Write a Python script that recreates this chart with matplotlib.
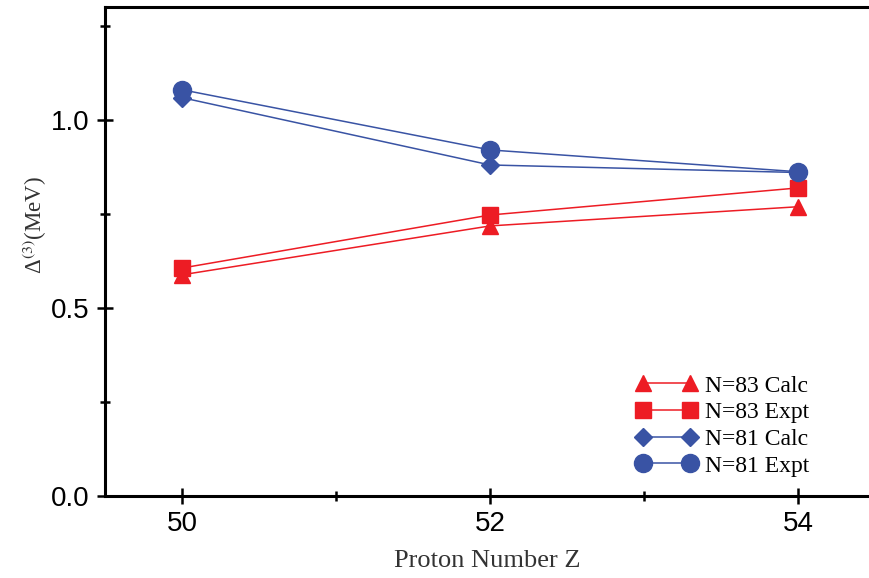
import matplotlib.pyplot as plt
from matplotlib.ticker import MultipleLocator

# data
z = [50, 52, 54]
n83_calc = [0.588, 0.718, 0.769]
n83_expt = [0.606, 0.747, 0.819]
n81_calc = [1.059, 0.880, 0.860]
n81_expt = [1.080, 0.920, 0.862]

red = '#ed1c24'
blue = '#3953a4'

plt.rcParams['mathtext.fontset'] = 'stix'

fig = plt.figure(figsize=(8.69, 5.78), dpi=100)
ax = fig.add_axes([0.1208, 0.1419, 0.8792, 0.846])

ax.plot(z, n83_calc, color=red, lw=1.1, marker='^', ms=12, label='N=83 Calc')
ax.plot(z, n83_expt, color=red, lw=1.1, marker='s', ms=11.5, label='N=83 Expt')
ax.plot(z, n81_calc, color=blue, lw=1.1, marker='D', ms=9, label='N=81 Calc')
ax.plot(z, n81_expt, color=blue, lw=1.1, marker='o', ms=13, label='N=81 Expt')

ax.set_xlim(49.5, 54.46)
ax.set_ylim(0, 1.3)
ax.xaxis.set_major_locator(MultipleLocator(2))
ax.xaxis.set_minor_locator(MultipleLocator(1))
ax.yaxis.set_major_locator(MultipleLocator(0.5))
ax.yaxis.set_minor_locator(MultipleLocator(0.25))
ax.yaxis.set_major_formatter(plt.FormatStrFormatter('%.1f'))

for s in ['left', 'bottom', 'top']:
    ax.spines[s].set_linewidth(2.2)
ax.spines['right'].set_visible(False)

ax.tick_params(which='both', direction='inout', width=1.8, top=False, right=False)
ax.tick_params(which='major', length=12, labelsize=20, pad=5)
ax.tick_params(which='minor', length=7)
for lab in ax.get_xticklabels() + ax.get_yticklabels():
    lab.set_family('Liberation Sans')

ax.set_xlabel('Proton Number Z', family='Liberation Serif', fontsize=19, color='#333333', labelpad=9)
ax.set_ylabel(r'Δ$^{(3)}$(MeV)', family='Liberation Serif', fontsize=16.5, color='#333333')
ax.yaxis.set_label_coords(-0.073, 0.554)

leg = ax.legend(loc='upper left', bbox_to_anchor=(0.707, 0.388), bbox_transform=fig.transFigure,
                frameon=False, numpoints=2, handlelength=2.6, handletextpad=0.35,
                labelspacing=0.22, prop={'family': 'Liberation Serif', 'size': 17})

fig.savefig('out.png', dpi=100)
